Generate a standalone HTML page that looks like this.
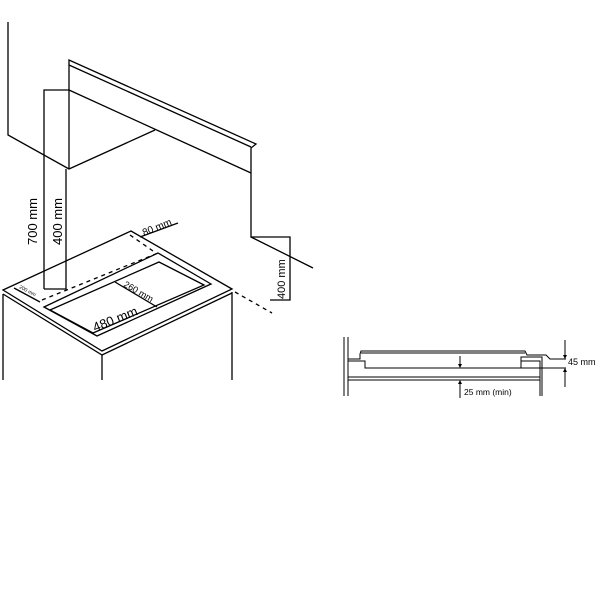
<!DOCTYPE html><html><head><style>body{margin:0;background:#fff}svg{display:block}</style></head><body>
<svg width="600" height="600" viewBox="0 0 600 600" xmlns="http://www.w3.org/2000/svg" font-family="Liberation Sans, sans-serif">
<rect width="600" height="600" fill="#fff"/>
<g stroke="#000" stroke-width="1.3" fill="none">
<polyline points="8,22 8,135 69,169 155,130"/>
<polyline points="69,169 69,60 256,144 251,148 251,237 290,237 290,300 270,300"/>
<line x1="69" y1="65" x2="251" y2="147"/>
<line x1="69" y1="90" x2="251" y2="173"/>
<line x1="251" y1="237" x2="313" y2="268"/>
<line x1="235" y1="292" x2="272" y2="313" stroke-dasharray="4,4"/>
<polyline points="44,289 44,90 69,90"/>
<polyline points="66,169 66,289 44,289"/>
<polygon points="3,290 131,231 232,289 102,351"/>
<polyline points="3,294 102,355 232,293"/>
<line x1="3" y1="294" x2="3" y2="380"/><line x1="102" y1="355" x2="102" y2="380"/><line x1="232" y1="292" x2="232" y2="380"/>
<polygon points="44,307 158,253 211,284 97,336"/>
<polygon points="50,310 159,262 204,285 93,333"/>
<line x1="115" y1="282" x2="157" y2="307"/>
<line x1="42" y1="300" x2="158" y2="253" stroke-dasharray="4,4"/>
<line x1="130" y1="235" x2="153" y2="251" stroke-dasharray="4,4"/>
<line x1="140" y1="237" x2="178" y2="223"/>
<line x1="14" y1="288" x2="40" y2="302"/>
</g>
<g fill="#000">
<text transform="translate(37,245) rotate(-90)" font-size="13">700 mm</text>
<text transform="translate(62,245) rotate(-90)" font-size="13">400 mm</text>
<text transform="translate(144,236) rotate(-22)" font-size="10">80 mm</text>
<text transform="translate(123,286) rotate(30)" font-size="9">260 mm</text>
<text transform="translate(95,332) rotate(-22)" font-size="13">480 mm</text>
<text transform="translate(19,288) rotate(28)" font-size="5">200 mm</text>
<text transform="translate(285,299) rotate(-90)" font-size="11">400 mm</text>
<text x="568" y="365" font-size="9">45 mm</text>
<text x="464" y="395" font-size="8.5">25 mm (min)</text>
</g>
<g stroke="#000" stroke-width="1" fill="none">
<line x1="344" y1="337" x2="344" y2="396"/><line x1="348" y1="337" x2="348" y2="396"/>
<polyline points="348,359 360,359 360,354 361,351 525,351 527,355 546,355 550,359 553,359"/>
<line x1="361" y1="353" x2="525" y2="353"/>
<polyline points="348,361 365,361 365,368 521,368 521,357 542,357 542,396"/>
<polyline points="521,361 540,361 540,396"/>
<line x1="348" y1="377" x2="540" y2="377"/><line x1="348" y1="380" x2="540" y2="380"/>
<line x1="553" y1="359" x2="566" y2="359"/><line x1="521" y1="368" x2="566" y2="368"/>
<line x1="565" y1="340" x2="565" y2="358"/><line x1="565" y1="369" x2="565" y2="387"/>
<line x1="460" y1="356" x2="460" y2="367"/><line x1="460" y1="381" x2="460" y2="398"/>
</g>
<g fill="#000">
<polygon points="563,355 567,355 565,359"/><polygon points="563,372 567,372 565,368"/>
<polygon points="458,364 462,364 460,368"/><polygon points="458,384 462,384 460,380"/>
</g>
</svg></body></html>
